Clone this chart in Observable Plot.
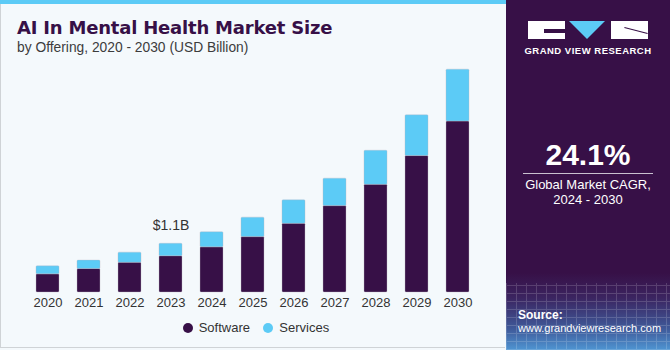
<!DOCTYPE html>
<html>
<head>
<meta charset="utf-8">
<script src="https://cdn.jsdelivr.net/npm/d3@7"></script>
<script src="https://cdn.jsdelivr.net/npm/@observablehq/plot@0.6"></script>
<style>
  html, body { margin: 0; padding: 0; }
  body { width: 670px; height: 350px; overflow: hidden; font-family: "Liberation Sans", Arial, sans-serif; }
  #wrap { position: relative; width: 670px; height: 350px; background: #f4f9fc; }
  #leftborder { position: absolute; left: 0; top: 0; width: 505px; height: 348px; box-sizing: border-box; border-left: 1px solid #cfd3d6; border-bottom: 1px solid #cfd3d6; }
  #stripe { position: absolute; left: 0; top: 0; width: 506px; height: 4px; background: #5ccbf6; }
  #title { position: absolute; left: 17px; top: 17px; font-family: "DejaVu Sans", sans-serif; font-size: 18px; font-weight: bold; color: #371047; letter-spacing: -0.2px; white-space: nowrap; }
  #subtitle { position: absolute; left: 17px; top: 40px; font-size: 13.8px; color: #3c3c3c; white-space: nowrap; }
  #chart { position: absolute; left: 0; top: 60px; }
  #legend { position: absolute; top: 320px; left: 0; width: 505px; font-size: 13px; color: #333; }
  .lg { position: absolute; top: 0; display: flex; align-items: center; }
  .dot { width: 10px; height: 10px; border-radius: 50%; margin-right: 6px; }
  #panel { position: absolute; left: 506px; top: 0; width: 164px; height: 350px;
    background: linear-gradient(180deg, #371047 0%, #371047 78%, #3b2460 85%, #3f5a9a 94%, #4f95d2 100%); overflow: hidden; }
  #grid { position: absolute; left: 0; top: 283px; width: 164px; height: 67px; opacity: 0.16;
    background-image: repeating-linear-gradient(0deg, #ffffff 0 1px, transparent 1px 8px), repeating-linear-gradient(90deg, #ffffff 0 1px, transparent 1px 10px); }
  .pt { position: absolute; color: #fff; white-space: nowrap; }
</style>
</head>
<body>
<div id="wrap">
  <div id="leftborder"></div>
  <div id="stripe"></div>
  <div id="title">AI In Mental Health Market Size</div>
  <div id="subtitle">by Offering, 2020 - 2030 (USD Billion)</div>
  <div id="chart"></div>
  <div id="legend"></div>
  <div id="panel">
    <div id="grid"></div>
    <div style="position:absolute;left:22px;top:21px;width:37px;height:18px;background:#fff;"></div>
    <div style="position:absolute;left:38px;top:29px;width:21px;height:4px;background:#371047;"></div>
    <div style="position:absolute;left:63px;top:21px;width:0;height:0;border-left:18px solid transparent;border-right:18px solid transparent;border-top:18px solid #5ccbf6;"></div>
    <div style="position:absolute;left:105px;top:21px;width:37px;height:18px;background:#fff;"></div>
    <div style="position:absolute;left:118px;top:30px;width:24px;height:1px;background:#371047;transform:rotate(15deg);"></div>
    <div class="pt" style="left:12px;top:45px;width:140px;text-align:center;font-size:9.5px;font-weight:bold;letter-spacing:0.5px;">GRAND VIEW RESEARCH</div>
    <div class="pt" style="left:0;top:138px;width:164px;text-align:center;font-size:30px;font-weight:bold;">24.1%</div>
    <div style="position:absolute;left:17px;top:173px;width:130px;height:1px;background:#c9c1d0;"></div>
    <div class="pt" style="left:0;top:177px;width:164px;text-align:center;font-size:13px;line-height:15px;">Global Market CAGR,<br>2024 - 2030</div>
    <div class="pt" style="left:12px;top:308px;font-size:12px;font-weight:bold;">Source:</div>
    <div class="pt" style="left:12px;top:322px;font-size:11px;">www.grandviewresearch.com</div>
  </div>
</div>
<script>
const years = ["2020","2021","2022","2023","2024","2025","2026","2027","2028","2029","2030"];
const software = [0.41, 0.53, 0.67, 0.82, 1.02, 1.25, 1.55, 1.95, 2.43, 3.08, 3.86];
const services = [0.18, 0.19, 0.23, 0.28, 0.34, 0.44, 0.53, 0.62, 0.77, 0.92, 1.17];
const segments = ["Software", "Services"];
const colors = ["#371047", "#5ccbf6"];
const annotationYear = "2023";
const annotationLabel = "$1.1B";

const rows = [];
years.forEach((y, i) => {
  rows.push({year: y, segment: "Software", value: software[i]});
  rows.push({year: y, segment: "Services", value: services[i]});
});
const totals = years.map((y, i) => ({year: y, total: software[i] + services[i]}));
const labelRows = totals.filter(d => d.year === annotationYear).map(d => ({...d, label: annotationLabel}));

const chart = Plot.plot({
  width: 505,
  height: 255,
  marginLeft: 13.5,
  marginRight: 12.4,
  marginTop: 0,
  marginBottom: 23,
  style: {fontFamily: "'Liberation Sans', Arial, sans-serif", fontSize: "13px", color: "#333", background: "transparent"},
  x: {domain: years, padding: 0.43, label: null, tickSize: 0, tickPadding: 5},
  y: {domain: [0, 5.237], axis: null},
  color: {domain: segments, range: colors},
  marks: [
    Plot.barY(rows, {x: "year", y: "value", fill: "segment", order: segments, rx: 1, stroke: "#b8b4c2", strokeWidth: 0.6, strokeOpacity: 0.6}),
    Plot.text(labelRows, {x: "year", y: "total", text: "label", dy: -18, fontSize: 14, fill: "#333"})
  ]
});
document.getElementById("chart").appendChild(chart);

const legend = document.getElementById("legend");
const lpos = [182.7, 263.3];
segments.forEach((s, i) => {
  const el = document.createElement("div");
  el.className = "lg";
  el.style.left = lpos[i] + "px";
  el.innerHTML = `<span class="dot" style="background:${colors[i]}"></span><span>${s}</span>`;
  legend.appendChild(el);
});
</script>
</body>
</html>
